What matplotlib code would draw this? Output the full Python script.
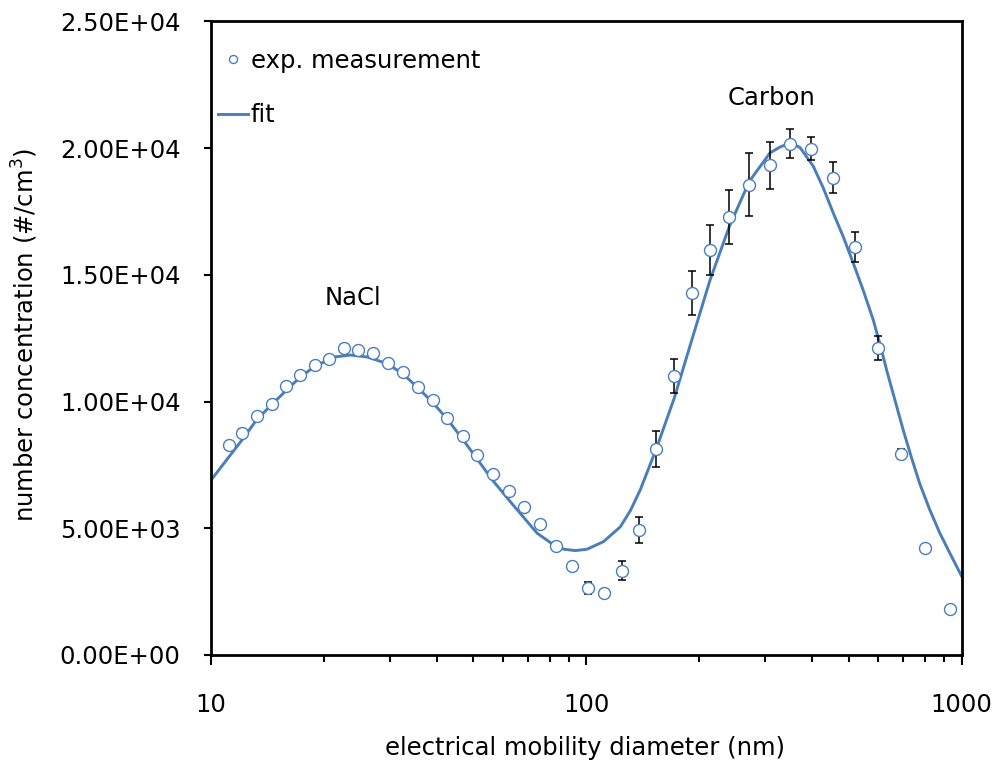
import matplotlib
matplotlib.use("Agg")
import matplotlib.pyplot as plt
from matplotlib.ticker import FixedLocator, LogLocator, FuncFormatter, NullFormatter
from matplotlib.lines import Line2D

# ---- data ----
diam = [11.14, 12.11, 13.23, 14.50, 15.86, 17.29, 18.91, 20.60, 22.63, 24.71,
        27.03, 29.62, 32.42, 35.53, 38.96, 42.63, 46.82, 51.23, 56.36, 62.06,
        68.15, 75.16, 83.13, 91.68, 101.1, 111.7, 124.3, 138.2, 153.7, 171.6,
        191.2, 213.9, 240.7, 272.1, 308.9, 349.9, 397.1, 453.6, 521.0, 599.6,
        692.0, 799.7, 930.3]
conc = [8283, 8757, 9413, 9887, 10598, 11032, 11455, 11664, 12115, 12036,
        11901, 11506, 11151, 10586, 10045, 9350, 8623, 7888, 7130, 6478,
        5834, 5175, 4317, 3527, 2658, 2461, 3330, 4926, 8125, 11020,
        14287, 15970, 17289, 18565, 19327, 20185, 19987, 18830, 16104, 12115,
        7940, 4227, 1817]
conc_err = [0, 150, 0, 0, 0, 0, 0, 0, 150, 0,
            0, 0, 0, 0, 0, 0, 0, 0, 0, 0,
            0, 0, 150, 0, 235, 0, 375, 510, 720, 680,
            850, 990, 1050, 1245, 920, 565, 440, 610, 590, 485,
            200, 0, 0]

fit_d = [10.0, 12.26, 13.23, 14.50, 15.86, 17.29, 18.91, 21.28, 23.57, 26.12,
         29.52, 32.42, 35.53, 38.96, 42.63, 46.82, 51.23, 56.36, 64.12, 73.98,
         81.89, 87.10, 93.54, 100.5, 111.2, 123.2, 131.0, 139.3, 153.7, 171.6,
         191.2, 213.9, 240.7, 272.1, 308.9, 328.4, 349.9, 371.2, 402.7, 428.1,
         455.1, 483.9, 514.5, 547.0, 581.6, 605.9, 632.4, 664.3, 699.0, 735.9,
         774.3, 823.2, 874.9, 930.3, 1000.0]
fit_n = [6900, 8599, 9283, 9875, 10440, 10969, 11388, 11759, 11838, 11759,
         11495, 11100, 10559, 9966, 9310, 8520, 7730, 6885, 5886, 4807,
         4345, 4175, 4120, 4175, 4475, 5056, 5688, 6518, 8137, 10140,
         12443, 14813, 16918, 18696, 19817, 20046, 20212, 20027, 19288, 18435,
         17447, 16511, 15472, 14398, 13233, 12285, 11218, 10073, 8888, 7782,
         6755, 5728, 4819, 4029, 3121]

y_ticks = [0, 5000, 10000, 15000, 20000, 25000]
x_ticks = [10, 100, 1000]
series_labels = ["exp. measurement", "fit"]
annotations = [("NaCl", 23.9, 14100), ("Carbon", 310.7, 21970)]

# ---- style ----
BLUE = "#4A7EBB"
FS = 17.5
plt.rcParams["font.family"] = ["DejaVu Sans"]

fig = plt.figure(figsize=(9.99, 7.69), dpi=100)
ax = fig.add_axes([211 / 999, 1 - 655 / 769, 750.5 / 999, 633.5 / 769])

ax.plot(fit_d, fit_n, color=BLUE, lw=2.1, zorder=2, solid_joinstyle="round")
ax.errorbar(diam, conc, yerr=conc_err, fmt="none", ecolor="black",
            elinewidth=1.1, capsize=2.6, capthick=1.1, zorder=3)
ax.plot(diam, conc, linestyle="none", marker="o", markersize=8.6,
        markerfacecolor="white", markeredgecolor=BLUE, markeredgewidth=1.0,
        zorder=4)

ax.set_xscale("log")
ax.set_xlim(10, 1000)
ax.set_ylim(0, 25000)

ax.xaxis.set_major_locator(FixedLocator(x_ticks))
ax.xaxis.set_major_formatter(FuncFormatter(lambda v, p: f"{int(round(v))}"))
ax.xaxis.set_minor_locator(LogLocator(base=10, subs=[2, 3, 4, 5, 6, 7, 8, 9]))
ax.xaxis.set_minor_formatter(NullFormatter())
ax.yaxis.set_major_locator(FixedLocator(y_ticks))
ax.yaxis.set_major_formatter(FuncFormatter(lambda v, p: f"{v:.2E}"))

for s in ax.spines.values():
    s.set_linewidth(2.0)
    s.set_color("black")

ax.tick_params(axis="y", which="major", direction="out", length=5, width=1.5,
               labelsize=FS, pad=17)
ax.tick_params(axis="x", which="major", direction="out", length=7, width=1.5,
               labelsize=FS, pad=20.4)
ax.tick_params(axis="x", which="minor", direction="out", length=5, width=1.5)

ax.set_xlabel("electrical mobility diameter (nm)", fontsize=FS)
ax.xaxis.set_label_coords(0.498, -0.128)
ax.set_ylabel("number concentration (#/cm$^3$)", fontsize=FS)
ax.yaxis.set_label_coords(-0.228, 0.505)

for txt, xd, yd in annotations:
    ax.text(xd, yd, txt, fontsize=FS, ha="center", va="center")

handles = [
    Line2D([], [], linestyle="none", marker="o", markersize=5.8,
           markerfacecolor="white", markeredgecolor=BLUE, markeredgewidth=1.0),
    Line2D([], [], color=BLUE, lw=2.1),
]
ax.legend(handles, series_labels, loc="upper left",
          bbox_to_anchor=(0.0093, 0.957), borderaxespad=0, borderpad=0,
          frameon=False, fontsize=FS, handlelength=1.25, handletextpad=0.1,
          labelspacing=1.26)

fig.savefig("out.png", dpi=100)
